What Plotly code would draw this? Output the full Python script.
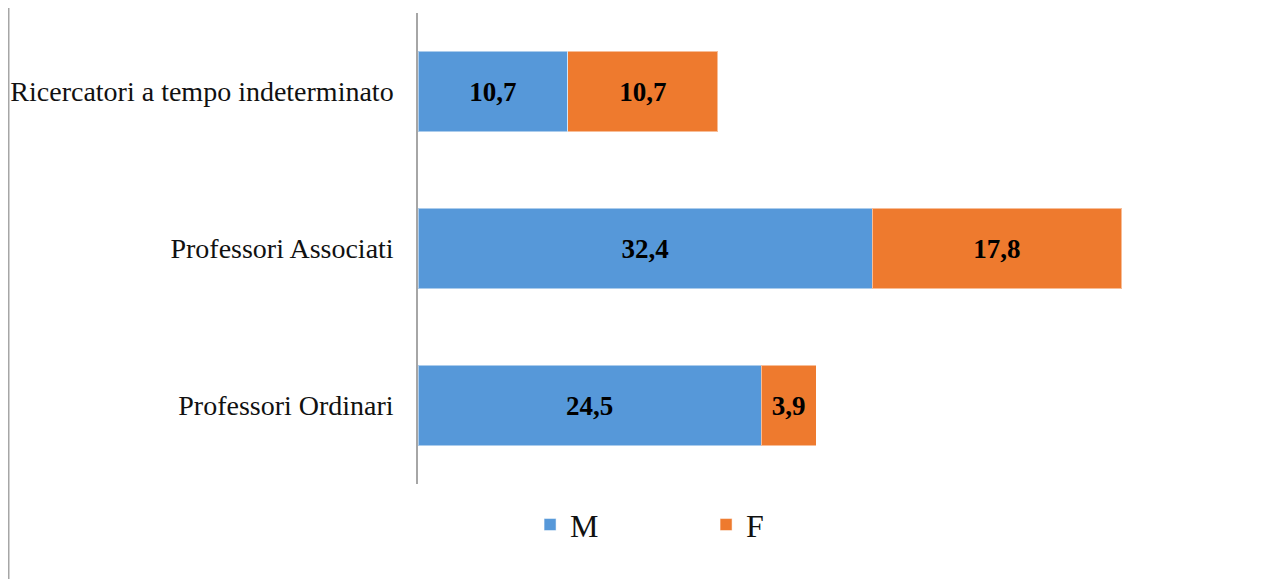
import plotly.graph_objects as go

categories = ["Professori Ordinari", "Professori Associati", "Ricercatori a tempo indeterminato"]
m_values = [24.5, 32.4, 10.7]
f_values = [3.9, 17.8, 10.7]
series_names = ["M", "F"]

FONT = "Liberation Serif"
blue = "#5698d9"
orange = "#ee7a2e"

W, H = 1258, 571
L, T, R, B = 410, 5, 7, 95
plot_w = W - L - R
plot_h = H - T - B

fig = go.Figure()
for name, vals, col in [(series_names[0], m_values, blue), (series_names[1], f_values, orange)]:
    fig.add_trace(go.Bar(
        y=categories, x=vals, name=name, orientation="h",
        marker=dict(color=col, line=dict(color="rgba(255,255,255,0.5)", width=1)),
        texttemplate="%{x:.1f}", textposition="inside", insidetextanchor="middle",
        textfont=dict(family=FONT, size=27, color="black", weight="bold"),
        constraintext="none",
    ))

fig.update_layout(
    barmode="stack", bargap=0.49,
    width=W, height=H,
    margin=dict(l=L, r=R, t=T, b=B, autoexpand=False),
    paper_bgcolor="white", plot_bgcolor="white",
    separators=",.",
    font=dict(family=FONT, size=28, color="#111111"),
    showlegend=True,
    legend=dict(orientation="h", xref="container", x=0.415, xanchor="left",
                yref="container", y=0.095, yanchor="middle",
                font=dict(family=FONT, size=32, color="#111111"),
                entrywidth=131, entrywidthmode="pixels", traceorder="normal"),
    xaxis=dict(range=[0, 60], showticklabels=False, showgrid=False, zeroline=False,
               showline=False, ticks="", automargin=False),
    yaxis=dict(showline=True, linecolor="#a6a6a6", linewidth=1.5, ticks="",
               ticklabelstandoff=17, showgrid=False, automargin=False,
               tickfont=dict(family=FONT, size=28, color="#111111")),
    shapes=[dict(type="line", xref="paper", yref="paper",
                 x0=(0.75 - L) / plot_w, x1=(0.75 - L) / plot_w,
                 y0=-B / plot_h, y1=(plot_h + T) / plot_h,
                 line=dict(color="#a6a6a6", width=1.5))],
)

fig.write_html("out.html")
